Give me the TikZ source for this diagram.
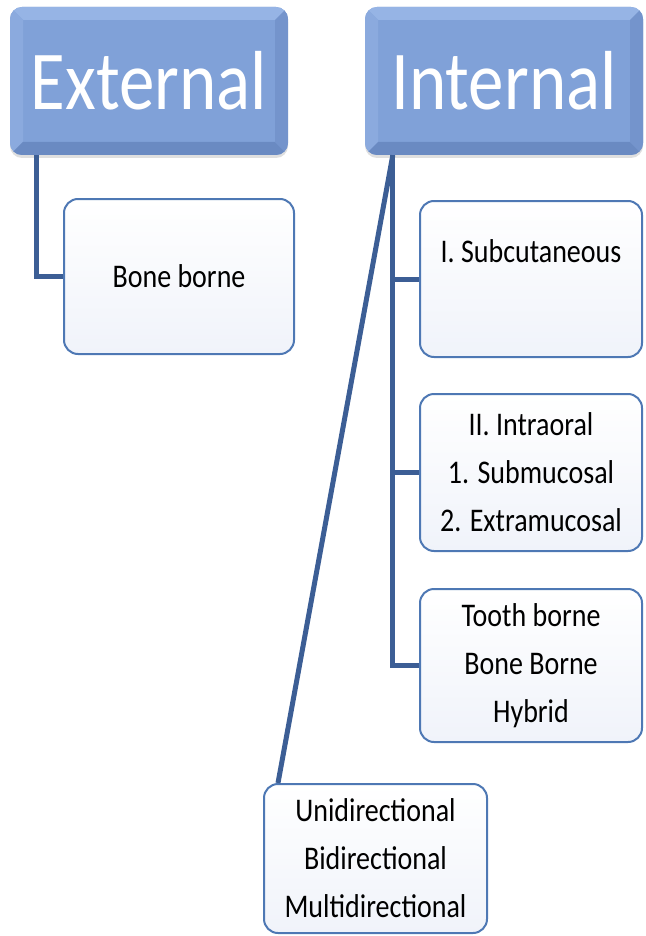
\documentclass[tikz,border=0pt]{standalone}
\usepackage{fontspec}
\setmainfont{Carlito}
\usetikzlibrary{calc,shadows}
\definecolor{hdmid}{HTML}{80A1D8}
\definecolor{hdtop}{HTML}{96B4E5}
\definecolor{hdleft}{HTML}{8BAADE}
\definecolor{hdbot}{HTML}{6A8AC2}
\definecolor{hdright}{HTML}{7494CC}
\definecolor{cbord}{HTML}{4E78B4}
\definecolor{cfill}{HTML}{F0F3FA}
\definecolor{connc}{HTML}{3C5E95}
\newcommand{\tl}[1]{\scalebox{1}[1.18]{#1}}
\begin{document}
\begin{tikzpicture}[x=1pt,y=-1pt,
  header/.style={rounded corners=12pt, minimum width=278pt, minimum height=148pt,
    inner sep=0pt, fill=hdmid, text=white, font=\fontsize{71}{80}\selectfont,
    drop shadow={shadow xshift=0pt, shadow yshift=-3pt, opacity=0.25},
    path picture={
      \path (path picture bounding box.north west) coordinate (nw)
            (path picture bounding box.south east) coordinate (se)
            (path picture bounding box.north east) coordinate (ne)
            (path picture bounding box.south west) coordinate (sw);
      \fill[hdtop, sharp corners] (nw) -- (ne) -- ($(ne)+(-13,13)$) -- ($(nw)+(13,13)$) -- cycle;
      \fill[hdleft, sharp corners] (nw) -- ($(nw)+(13,13)$) -- ($(sw)+(13,-13)$) -- (sw) -- cycle;
      \fill[hdbot, sharp corners] (sw) -- ($(sw)+(13,-13)$) -- ($(se)+(-13,-13)$) -- (se) -- cycle;
      \fill[hdright, sharp corners] (ne) -- (se) -- ($(se)+(-13,-13)$) -- ($(ne)+(-13,13)$) -- cycle;
    }},
  childbox/.style={draw=cbord, line width=2pt, rounded corners=14pt,
    top color=white, bottom color=cfill, inner sep=0pt, align=center,
    font=\fontsize{28}{48}\selectfont},
  conn/.style={draw=connc, line width=5pt, line join=miter}
]
\useasboundingbox (0,0) rectangle (645,936);

\node[header] (ext) at (149,81) {\tl{External}};
\node[header] (int) at (504,81) {\tl{Internal}};

\node[childbox, minimum width=230pt, minimum height=155pt] (bone) at (179,276.5) {\tl{Bone borne}};
\node[childbox, minimum width=222pt, minimum height=156pt, text depth=55pt] (sub) at (531,279) {\tl{I. Subcutaneous}};
\node[childbox, minimum width=222pt, minimum height=157pt] (intra) at (531,472.5)
  {\tl{II. Intraoral}\\\tl{1. Submucosal}\\\tl{2. Extramucosal}};
\node[childbox, minimum width=222pt, minimum height=153pt] (tooth) at (531,665.5)
  {\tl{Tooth borne}\\\tl{Bone Borne}\\\tl{Hybrid}};
\node[childbox, minimum width=223pt, minimum height=149pt] (dir) at (375.5,858.5)
  {\tl{Unidirectional}\\\tl{Bidirectional}\\\tl{Multidirectional}};

\coordinate (et) at ($(ext.south west)+(27,0)$);
\draw[conn] (et) |- (bone.west);

\coordinate (it) at ($(int.south west)+(28,0)$);
\draw[conn] (it) |- (tooth.west);
\draw[conn] (it |- sub.west) -- (sub.west);
\draw[conn] (it |- intra.west) -- (intra.west);
\coordinate (dt) at ($(dir.north west)+(15,0)$);
\draw[conn] (it) -- (dt);
\end{tikzpicture}
\end{document}
